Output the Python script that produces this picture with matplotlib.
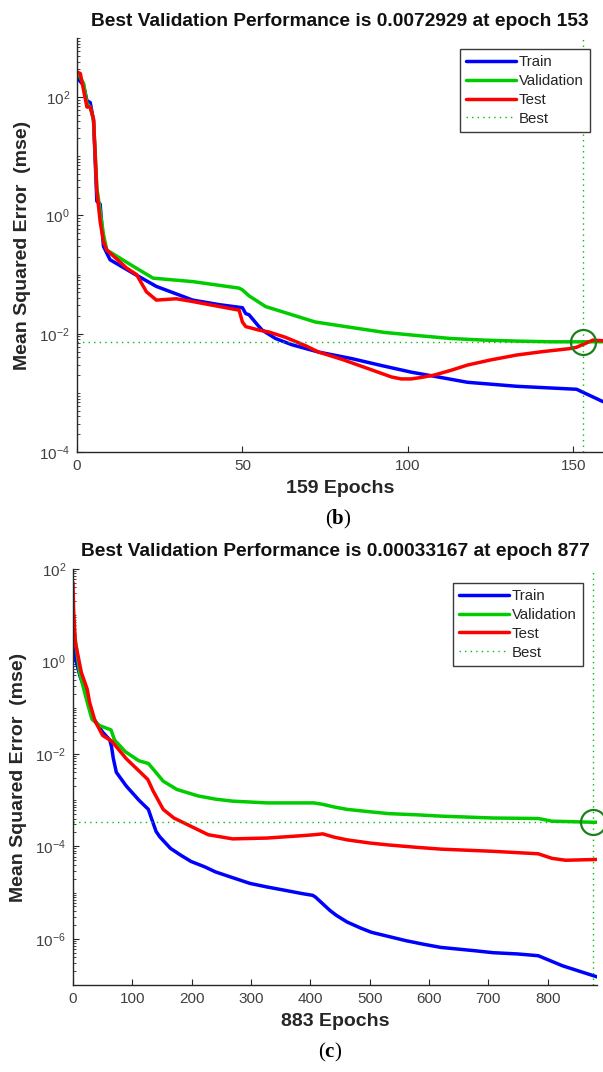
import numpy as np
import matplotlib
matplotlib.use("Agg")
import matplotlib.pyplot as plt
from matplotlib.ticker import FixedLocator, FuncFormatter, LogLocator, NullFormatter

plt.rcParams['font.family'] = ['Liberation Sans', 'DejaVu Sans']
plt.rcParams['mathtext.fontset'] = 'custom'
plt.rcParams['mathtext.rm'] = 'Liberation Serif'
plt.rcParams['mathtext.bf'] = 'Liberation Serif:bold'
plt.rcParams['axes.unicode_minus'] = False

# ---- Panel (b): 159 epochs ----
b_train_ep = [0, 2, 3, 4, 5, 6, 7, 8, 10, 17, 24, 35, 43, 50, 51, 52, 55, 56, 60, 65,
              73, 83, 92, 101, 110, 118, 133, 151, 159]
b_train = [214, 158, 87, 81, 40, 1.74, 1.55, 0.30, 0.178, 0.105, 0.063, 0.037, 0.031,
           0.0275, 0.0219, 0.0209, 0.0132, 0.0115, 0.0083, 0.0065, 0.0049, 0.0038,
           0.0029, 0.00224, 0.00182, 0.00151, 0.00129, 0.00115, 0.00071]

b_val_ep = [0, 2, 3, 4, 5, 6, 8, 9, 17, 23, 35, 49, 50, 52, 57, 65, 72, 80, 93, 103,
            113, 123, 133, 143, 153, 159]
b_val = [269, 170, 78, 68, 40, 2.95, 0.48, 0.26, 0.138, 0.087, 0.076, 0.059, 0.055,
         0.0437, 0.0288, 0.0209, 0.0158, 0.0135, 0.0105, 0.0093, 0.0083, 0.0078, 0.0075,
         0.0073, 0.0072929, 0.00733]

b_test_ep = [0, 1, 3, 4, 5, 6, 7, 8, 9, 15, 18, 21, 24, 30, 35, 40, 49, 50, 51, 55, 58,
             63, 69, 73, 80, 88, 95, 98, 101, 104, 108, 113, 118, 125, 133, 141, 149,
             151, 156, 159]
b_test = [266, 251, 68, 68, 43, 2.57, 0.79, 0.36, 0.26, 0.129, 0.10, 0.051, 0.037,
          0.039, 0.035, 0.031, 0.025, 0.0158, 0.0132, 0.0115, 0.0107, 0.0087, 0.0063,
          0.0049, 0.0037, 0.00257, 0.00186, 0.00172, 0.00172, 0.00182, 0.0020, 0.0024,
          0.00295, 0.0036, 0.00437, 0.0050, 0.0056, 0.0059, 0.0078, 0.0076]

b_epochs = 159
b_best_epoch = 153
b_best_perf = 0.0072929

# ---- Panel (c): 883 epochs ----
c_train_ep = [0, 3, 12, 21, 35, 50, 62, 65, 68, 73, 90, 111, 127, 132, 140, 146, 164,
              181, 199, 222, 240, 269, 298, 327, 357, 386, 404, 409, 433, 444, 462, 485,
              503, 532, 561, 591, 620, 678, 708, 749, 784, 825, 883]
c_train = [10, 1.29, 0.47, 0.234, 0.0575, 0.0295, 0.020, 0.0141, 0.0079, 0.0040,
           0.0020, 0.0010, 6.3e-4, 4.1e-4, 2.1e-4, 1.62e-4, 9.1e-5, 6.5e-5, 4.7e-5,
           3.6e-5, 2.8e-5, 2.1e-5, 1.58e-5, 1.32e-5, 1.12e-5, 9.5e-6, 8.7e-6, 7.9e-6,
           4.1e-6, 3.2e-6, 2.3e-6, 1.7e-6, 1.38e-6, 1.12e-6, 9.1e-7, 7.6e-7, 6.5e-7,
           5.5e-7, 5.0e-7, 4.7e-7, 4.3e-7, 2.6e-7, 1.5e-7]

c_val_ep = [0, 3, 11, 20, 26, 32, 45, 64, 70, 88, 111, 127, 135, 152, 175, 211, 240,
            269, 327, 406, 421, 440, 462, 500, 532, 580, 620, 708, 784, 807, 877, 883]
c_val = [7.1, 3.6, 0.59, 0.204, 0.105, 0.056, 0.041, 0.033, 0.020, 0.0112, 0.0071,
         0.0062, 0.0047, 0.00257, 0.0017, 0.00123, 0.00105, 9.5e-4, 8.7e-4, 8.7e-4,
         8.1e-4, 7.1e-4, 6.3e-4, 5.6e-4, 5.1e-4, 4.8e-4, 4.5e-4, 4.1e-4, 4.0e-4,
         3.5e-4, 3.3167e-4, 3.32e-4]

c_test_ep = [0, 1, 4, 14, 24, 28, 37, 50, 65, 90, 111, 126, 135, 152, 170, 199, 228,
             269, 327, 386, 406, 421, 440, 462, 500, 532, 580, 620, 708, 784, 807, 830,
             883]
c_test = [51, 13.5, 2.6, 0.58, 0.25, 0.13, 0.052, 0.025, 0.019, 0.0078, 0.0043, 0.0028,
          0.00158, 6.3e-4, 4.1e-4, 2.7e-4, 1.78e-4, 1.45e-4, 1.51e-4, 1.7e-4, 1.78e-4,
          1.86e-4, 1.58e-4, 1.38e-4, 1.18e-4, 1.07e-4, 9.5e-5, 8.7e-5, 7.8e-5, 6.9e-5,
          5.5e-5, 5.0e-5, 5.2e-5]

c_epochs = 883
c_best_epoch = 877
c_best_perf = 0.00033167

W, H = 603, 1072
fig = plt.figure(figsize=(W / 100, H / 100), dpi=100)

TXT = '#262626'
TICK = '#404040'


def px_axes(left, top, right, bottom):
    return fig.add_axes([left / W, 1 - bottom / H, (right - left) / W, (bottom - top) / H])


def sci_label(v, pos):
    return r'$\mathregular{10^{%d}}$' % int(round(np.log10(v)))


def perf_panel(ax, series, n_epochs, best_ep, best_val, ylim, yticks, xticks, leg_anchor):
    colors = {'Train': (0, 0, 1), 'Validation': (0, 0.8, 0), 'Test': (1, 0, 0)}
    for name, ep, vals in series:
        ax.plot(ep, vals, color=colors[name], lw=2.5, label=name,
                solid_joinstyle='round', solid_capstyle='round')
    ax.axvline(best_ep, color=(0, 0.75, 0), lw=1.0, ls=(0, (1, 3)), label='Best')
    ax.axhline(best_val, color=(0, 0.75, 0), lw=1.0, ls=(0, (1, 3)))
    ax.plot([best_ep], [best_val], 'o', ms=18, mfc='none', mec=(0.1, 0.5, 0.1),
            mew=1.6, clip_on=False, zorder=5)
    ax.set_yscale('log')
    ax.set_xlim(0, n_epochs)
    ax.set_ylim(*ylim)
    ax.yaxis.set_major_locator(FixedLocator(yticks))
    ax.yaxis.set_major_formatter(FuncFormatter(sci_label))
    ax.yaxis.set_minor_locator(LogLocator(base=10, subs=np.arange(1, 10), numticks=100))
    ax.yaxis.set_minor_formatter(NullFormatter())
    ax.xaxis.set_major_locator(FixedLocator(xticks))
    for s in ('top', 'right'):
        ax.spines[s].set_visible(False)
    for s in ('left', 'bottom'):
        ax.spines[s].set_color(TXT)
        ax.spines[s].set_linewidth(1.0)
    ax.tick_params(which='major', direction='in', length=4, width=0.8, color=TXT,
                   labelsize=11, labelcolor=TICK, pad=5)
    ax.tick_params(which='minor', direction='in', length=2.2, width=0.6, color=TXT)
    ax.set_ylabel('Mean Squared Error  (mse)', fontsize=14, fontweight='bold',
                  color=TXT, labelpad=6)
    ax.set_xlabel('%d Epochs' % n_epochs, fontsize=14, fontweight='bold',
                  color=TXT, labelpad=5)
    ax.set_title('Best Validation Performance is %s at epoch %d' % (repr(best_val), best_ep),
                 fontsize=13.8, fontweight='bold', color='#111111', pad=9)
    leg = ax.legend(loc='upper right', bbox_to_anchor=leg_anchor, borderaxespad=0,
                    fontsize=10.8, frameon=True, fancybox=False, framealpha=1,
                    edgecolor='#3a3a3a', handlelength=3.3, handletextpad=0.2,
                    labelspacing=0.32, borderpad=0.4)
    leg.get_frame().set_linewidth(1.0)
    for t in leg.get_texts():
        t.set_color(TXT)


ax1 = px_axes(77, 38, 603, 452)
perf_panel(ax1,
           [('Train', b_train_ep, b_train), ('Validation', b_val_ep, b_val),
            ('Test', b_test_ep, b_test)],
           b_epochs, b_best_epoch, b_best_perf, (1e-4, 1e3),
           [1e-4, 1e-2, 1e0, 1e2], [0, 50, 100, 150], (0.975, 0.973))

ax2 = px_axes(73, 569, 597, 985)
perf_panel(ax2,
           [('Train', c_train_ep, c_train), ('Validation', c_val_ep, c_val),
            ('Test', c_test_ep, c_test)],
           c_epochs, c_best_epoch, c_best_perf, (1e-7, 1e2),
           [1e-6, 1e-4, 1e-2, 1e0, 1e2], list(range(0, 801, 100)), (0.973, 0.966))

fig.text(338 / W, 1 - 519 / H, r'$\mathrm{(}\mathbf{b}\mathrm{)}$', fontsize=15,
         ha='center', va='center', color='black')
fig.text(330 / W, 1 - 1052 / H, r'$\mathrm{(}\mathbf{c}\mathrm{)}$', fontsize=15,
         ha='center', va='center', color='black')

fig.savefig('out.png', dpi=100)
